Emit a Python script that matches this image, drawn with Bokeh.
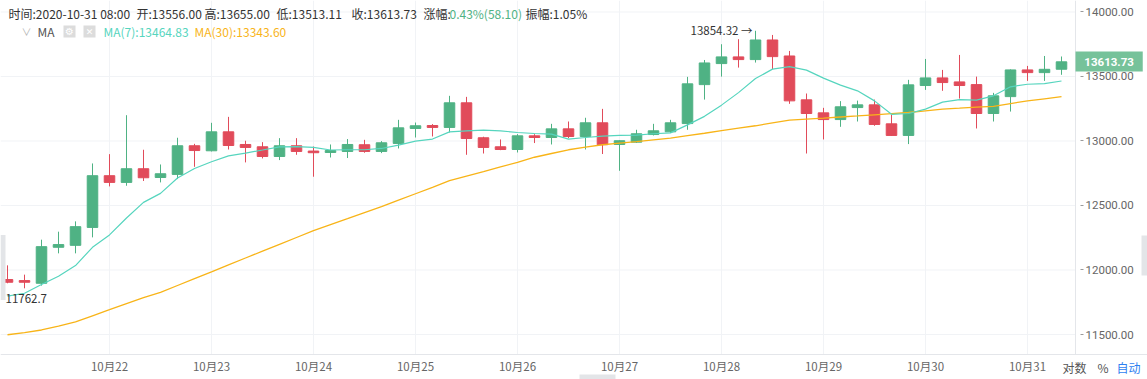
from bokeh.plotting import figure
from bokeh.models import Range1d, FixedTicker, Label, NumeralTickFormatter
from bokeh.embed import file_html
from bokeh.resources import INLINE

# ---------------- data (4h candles, 2020-10-21 00:00 .. 2020-10-31 08:00) ----------------
day_ticks = [6, 12, 18, 24, 30, 36, 42, 48, 54, 60]
day_labels = ["10月22", "10月23", "10月24", "10月25", "10月26",
              "10月27", "10月28", "10月29", "10月30", "10月31"]
price_ticks = [11500, 12000, 12500, 13000, 13500, 14000]

opens = [11926, 11918, 11897, 12176, 12191, 12330, 12731, 12679, 12785, 12717,
         12741, 12963, 12924, 13071, 12973, 12955, 12880, 12963, 12922, 12911,
         12919, 12971, 12919, 12981, 13097, 13120, 13105, 13296, 13025, 12955,
         12934, 13040, 13027, 13094, 13035, 13141, 12973, 12991, 13050, 13071,
         13135, 13437, 13600, 13652, 13631, 13783, 13659, 13319, 13218, 13166,
         13259, 13280, 13133, 13043, 13430, 13489, 13458, 13437, 13213, 13344,
         13551, 13530, 13556.00]
highs = [12036, 11964, 12235, 12297, 12377, 12826, 12898, 13200, 12932, 12818,
         13025, 12978, 13141, 13187, 13002, 12991, 13022, 13022, 12957, 12973,
         13015, 13009, 12999, 13164, 13143, 13131, 13350, 13342, 13033, 13012,
         13053, 13053, 13133, 13151, 13180, 13249, 13005, 13087, 13133, 13164,
         13497, 13628, 13750, 13789, 13854.32, 13822, 13698, 13368, 13257, 13309,
         13313, 13321, 13203, 13474, 13636, 13551, 13667, 13499, 13373, 13555,
         13582, 13659, 13655.00]
lows = [11897, 11858, 11879, 12129, 12129, 12253, 12648, 12653, 12690, 12679,
        12705, 12800, 12919, 12934, 12834, 12865, 12852, 12893, 12723, 12872,
        12868, 12909, 12906, 12942, 13027, 13035, 13066, 12893, 12903, 12929,
        12911, 12984, 12973, 13022, 12934, 12899, 12769, 12985, 13043, 13063,
        13087, 13321, 13499, 13569, 13608, 13557, 13288, 12903, 13012, 13110,
        13151, 13118, 13040, 12976, 13396, 13389, 13329, 13097, 13151, 13228,
        13466, 13466, 13513.11]
closes = [11905, 11905, 12181, 12197, 12336, 12731, 12679, 12785, 12715, 12746,
          12963, 12926, 13071, 12965, 12950, 12880, 12963, 12919, 12909, 12926,
          12973, 12919, 12986, 13102, 13118, 13105, 13296, 13019, 12950, 12934,
          13040, 13027, 13094, 13035, 13141, 12971, 13002, 13056, 13079, 13141,
          13443, 13605, 13652, 13631, 13783, 13654, 13311, 13213, 13166, 13265,
          13280, 13128, 13043, 13435, 13489, 13453, 13430, 13213, 13350, 13551,
          13530, 13555.63, 13613.73]
ma7 = [11798, 11820, 11887, 11951, 12034, 12176, 12272, 12403, 12524, 12594,
       12713, 12787, 12839, 12885, 12906, 12930, 12955, 12957, 12950, 12930,
       12932, 12932, 12942, 12968, 12999, 13015, 13071, 13079, 13084, 13079,
       13066, 13058, 13053, 13015, 13027, 13038, 13043, 13046, 13056, 13063,
       13125, 13191, 13278, 13375, 13484, 13557, 13577, 13549, 13487, 13433,
       13389, 13311, 13207, 13213, 13247, 13301, 13321, 13317, 13350, 13420,
       13440, 13445, 13464.83]
ma30 = [11498, 11515, 11535, 11565, 11598, 11645, 11692, 11740, 11786, 11827,
        11880, 11933, 11986, 12040, 12093, 12146, 12199, 12252, 12305, 12352,
        12398, 12445, 12491, 12541, 12591, 12641, 12692, 12728, 12763, 12799,
        12834, 12874, 12903, 12932, 12952, 12971, 12983, 12995, 13009, 13022,
        13041, 13060, 13080, 13099, 13118, 13140, 13161, 13169, 13177, 13186,
        13194, 13203, 13212, 13221, 13234, 13247, 13254, 13262, 13269, 13290,
        13311, 13327, 13343.60]

# ---------------- layout ----------------
UP, DOWN = "#4fb284", "#e14b5a"
MA7_C, MA30_C = "#56d5be", "#f8b418"
GRID_C, LINE_C = "#f1f3f6", "#e4e6ea"
FONT = "Roboto, 'Noto Sans CJK SC', sans-serif"
CJK = "'Noto Sans CJK SC', Roboto, sans-serif"

W, H = 1147, 379
PX_PER_BAR = 17.0
PRICE_PER_PX = 2744 / 354
X0 = -7 / PX_PER_BAR
X1 = X0 + W / PX_PER_BAR
Y1 = 14089
Y0 = Y1 - H * PRICE_PER_PX


def dx(px):
    return X0 + px / PX_PER_BAR


def dy(py):
    return Y1 - py * PRICE_PER_PX


PLOT_R, PLOT_B = 1075, 354   # edge of the candle area (axis lines)

p = figure(width=W, height=H, x_range=Range1d(X0, X1), y_range=Range1d(Y0, Y1),
           output_backend="svg", toolbar_location=None, y_axis_location="right",
           min_border=0)
p.outline_line_color = None
p.background_fill_color = "white"
p.grid.visible = False

# axes drawn at fixed positions inside the (full-size) frame
xa, ya = p.xaxis[0], p.yaxis[0]
xa.fixed_location = dy(PLOT_B - 2.5)
ya.fixed_location = dx(PLOT_R)
xa.ticker = FixedTicker(ticks=day_ticks)
xa.major_label_overrides = {t: l for t, l in zip(day_ticks, day_labels)}
ya.ticker = FixedTicker(ticks=price_ticks)
ya.formatter = NumeralTickFormatter(format="0.00")
ya.bounds = (dy(PLOT_B), Y1)
for ax in (xa, ya):
    ax.minor_tick_line_color = None
    ax.major_label_text_color = "#666666"
    ax.major_label_text_font = FONT
xa.axis_line_color = None
xa.major_tick_line_color = None
xa.major_label_text_font = CJK
xa.major_label_text_font_size = "11.5px"
xa.major_label_standoff = 0
ya.axis_line_color = LINE_C
ya.major_tick_line_color = "#9a9a9a"
ya.major_tick_in = -5
ya.major_tick_out = 8
ya.major_label_text_font_size = "11.5px"
ya.major_label_standoff = 2

# grid lines (stop at the axis lines)
p.segment(x0=[X0] * len(price_ticks), y0=price_ticks, x1=[dx(PLOT_R)] * len(price_ticks),
          y1=price_ticks, line_color=GRID_C, line_width=1)
p.segment(x0=day_ticks, y0=[dy(PLOT_B)] * len(day_ticks), x1=day_ticks,
          y1=[Y1] * len(day_ticks), line_color=GRID_C, line_width=1)
# bottom separator line across the full width
p.segment(x0=[X0], y0=[dy(PLOT_B)], x1=[X1], y1=[dy(PLOT_B)], line_color=LINE_C, line_width=1)

idx = list(range(len(opens)))
colors = [UP if c >= o else DOWN for o, c in zip(opens, closes)]
tops = [max(o, c) for o, c in zip(opens, closes)]
bots = [min(o, c) for o, c in zip(opens, closes)]

p.segment(x0=idx, y0=lows, x1=idx, y1=highs, line_color=colors, line_width=1)
p.vbar(x=idx, width=0.62, top=tops, bottom=bots, fill_color=colors, line_color=colors, line_width=1)
p.line(idx, ma30, line_color=MA30_C, line_width=1.3)
p.line(idx, ma7, line_color=MA7_C, line_width=1.2)


def lab(text, px, py, color="#333333", size=12, align="left", font=CJK, bold=False,
        baseline="middle", **kw):
    l = Label(x=dx(px), y=dy(py), text=text, text_color=color, text_font_size=f"{size}px",
              text_font=font, text_align=align, text_baseline=baseline,
              text_font_style="bold" if bold else "normal", **kw)
    p.add_layout(l)
    return l


# header info line
lab("时间:2020-10-31 08:00", 8, 13)
lab("开:13556.00", 136, 13)
lab("高:13655.00", 204, 13)
lab("低:13513.11", 276, 13)
lab("收:13613.73", 351, 13)
lab("涨幅:", 423, 13)
lab("0.43%(58.10)", 449, 13, color=UP)
lab("振幅:1.05%", 525, 13)

# MA legend line
lab("∨", 21, 31, color="#b5b5b5", size=10)
lab("MA", 37, 31, color="#555555")
p.rect(x=[dx(69), dx(89)], y=[dy(31), dy(31)], width=12, height=12,
       width_units="screen", height_units="screen", fill_color="#dcdcdc", line_color=None)
lab("⚙", 69, 31, color="white", size=10, align="center", font="DejaVu Sans")
lab("✕", 89, 31, color="white", size=9, align="center", font="DejaVu Sans")
lab("MA(7):13464.83", 103, 31, color=MA7_C)
lab("MA(30):13343.60", 194, 31, color=MA30_C)

# extremes
lab("13854.32 →", 752, 29, color="#333333", size=11.5, align="right")
lab("11762.7", 5, 298, color="#333333", size=11.5)

# current price tag
lab("\u200213613.73\u2002", PLOT_R, 61, color="white", size=11.5, font=FONT, bold=True,
    background_fill_color="#76c29a", background_fill_alpha=1.0, padding=3)

# bottom right controls
lab("对数", 1062, 366.5, color="#555555", size=12)
lab("%", 1097, 366.5, color="#555555", size=12)
lab("自动", 1116, 366.5, color="#2f7ff0", size=12)

# scroll handles at the edges
p.rect(x=[dx(2.5), dx(1144), dx(597)], y=[dy(267), dy(255), dy(376.5)],
       width=[5, 6, 36], height=[65, 40, 5], width_units="screen", height_units="screen",
       fill_color="#e3e5e8", line_color=None)

open("out.html", "w").write(file_html(p, INLINE))
